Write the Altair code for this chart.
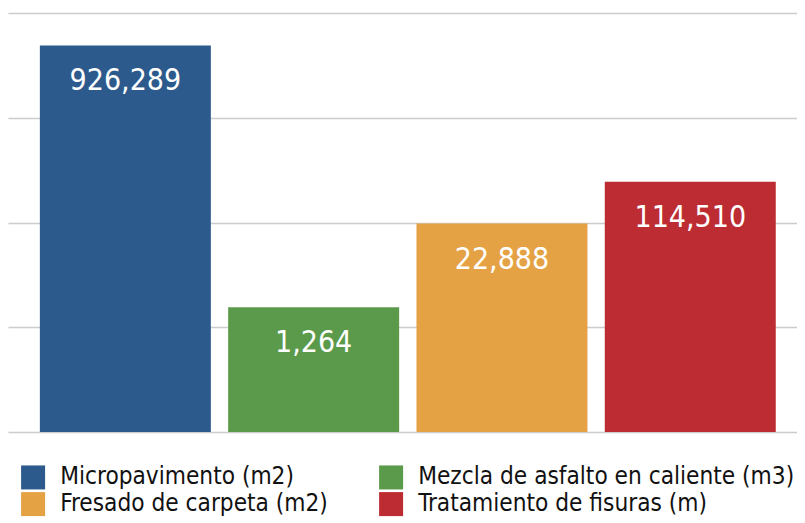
import altair as alt
import pandas as pd

categories = ["Micropavimento (m2)", "Mezcla de asfalto en caliente (m3)",
              "Fresado de carpeta (m2)", "Tratamiento de fisuras (m)"]
bar_heights = [3.69, 1.19, 1.99, 2.39]
value_labels = ["926,289", "1,264", "22,888", "114,510"]
colors = ["#2D5A8C", "#5A9A4A", "#E5A244", "#BD2C32"]

# legend order (column-major fill gives the reference's row layout)
legend_order = [categories[0], categories[2], categories[1], categories[3]]
legend_colors = [colors[0], colors[2], colors[1], colors[3]]

df = pd.DataFrame({"cat": categories, "h": bar_heights, "lab": value_labels})

FONT = "DejaVu Sans Condensed"

x = alt.X("cat:N", sort=categories, axis=None,
          scale=alt.Scale(paddingInner=0.092, paddingOuter=0.141, align=0.6))
y = alt.Y("h:Q", scale=alt.Scale(domain=[0, 4]),
          axis=alt.Axis(title=None, labels=False, ticks=False, domain=False,
                        tickCount=4, gridColor="#cccccc", gridWidth=1.5))

bars = alt.Chart(df).mark_bar().encode(
    x=x, y=y,
    color=alt.Color("cat:N",
                    scale=alt.Scale(domain=legend_order, range=legend_colors),
                    legend=alt.Legend(title=None, orient="none", legendX=13, legendY=452,
                                      padding=0, offset=0,
                                      columns=2, columnPadding=51, rowPadding=2,
                                      symbolType="square", symbolSize=576,
                                      symbolStrokeWidth=0, symbolOffset=0,
                                      labelFont=FONT, labelFontSize=24.2, labelColor="#111111",
                                      labelOffset=15, labelLimit=450))
)

text = alt.Chart(df).mark_text(color="white", font=FONT, fontSize=30,
                               baseline="middle", dy=36).encode(
    x=alt.X("cat:N", sort=categories), y="h:Q", text="lab:N")

chart = (bars + text).properties(
    width=789, height=419,
    padding={"left": 0, "top": 5, "right": 0, "bottom": 0}
).configure_view(stroke=None)

chart.save("out.html", embed_options={"renderer": "svg", "actions": False})
